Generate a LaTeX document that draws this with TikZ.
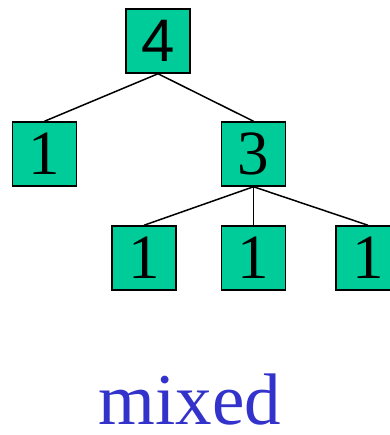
\documentclass[tikz,border=0pt]{standalone}
\usepackage{fontspec}
\setmainfont{Liberation Serif}
\newfontfamily\arialfont{Liberation Sans}
\definecolor{boxgreen}{RGB}{0,204,153}
\definecolor{labelblue}{RGB}{51,51,204}
\begin{document}
\begin{tikzpicture}[x=1pt, y=-1pt,
    numbox/.style={rectangle, draw=black, line width=1.5pt, fill=boxgreen,
      minimum width=64pt, minimum height=64pt, inner sep=0pt,
      font=\fontsize{63}{63}\selectfont},
    edge/.style={line width=1.5pt}]
  \useasboundingbox (0,0) rectangle (389,435);

  % Root of the tree
  \node[numbox, font=\fontsize{60}{60}\selectfont\arialfont] (root) at (158, 41) {4};

  % Second level
  \node[numbox] (leaf-a) at (44.5, 154) {1};
  \node[numbox] (mid) at (253.5, 154) {3};

  \draw[edge] (root.south) -- (leaf-a.north);
  \draw[edge] (root.south) -- (mid.north);

  % Third level
  \node[numbox] (leaf-b) at (144, 258) {1};
  \node[numbox] (leaf-c) at (253.5, 258) {1};
  \node[numbox] (leaf-d) at (368, 258) {1};

  \draw[edge] (mid.south) -- (leaf-b.north);
  \draw[edge] (mid.south) -- (leaf-c.north);
  \draw[edge] (mid.south) -- (leaf-d.north);

  % Caption
  \node[anchor=base, inner sep=0pt, text=labelblue,
    font=\fontsize{73}{73}\selectfont] (caption) at (190, 424) {mixed};
\end{tikzpicture}
\end{document}
